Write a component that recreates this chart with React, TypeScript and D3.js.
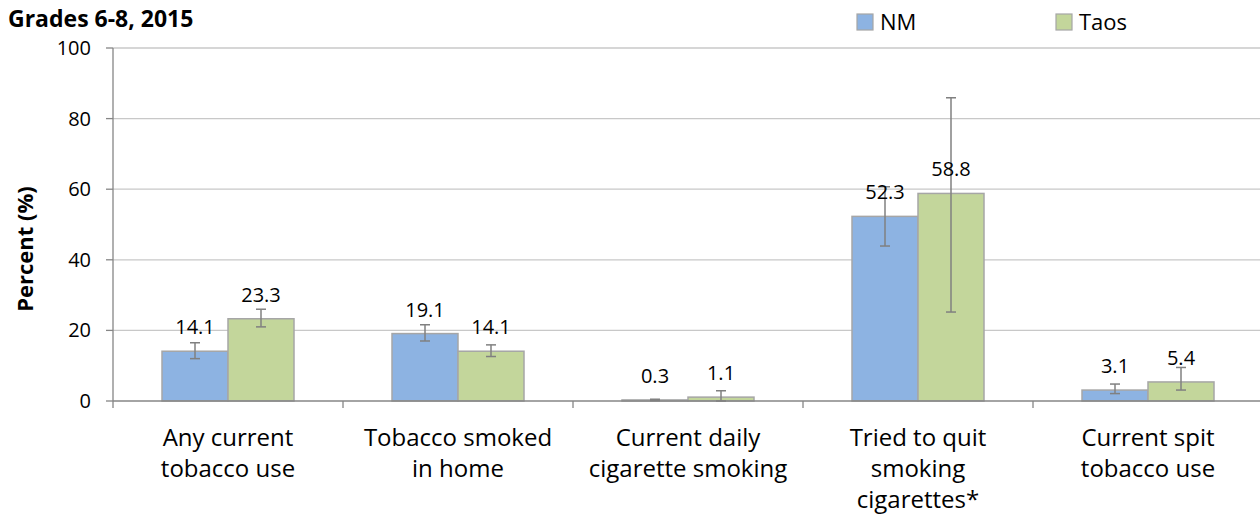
import React from "react";
import * as d3 from "d3";

const categories = [
  ["Any current", "tobacco use"],
  ["Tobacco smoked", "in home"],
  ["Current daily", "cigarette smoking"],
  ["Tried to quit", "smoking", "cigarettes*"],
  ["Current spit", "tobacco use"],
];
const seriesNames = ["NM", "Taos"];
const nmValues = [14.1, 19.1, 0.3, 52.3, 3.1];
const taosValues = [23.3, 14.1, 1.1, 58.8, 5.4];
const nmLower = [12.0, 17.0, 0.1, 43.9, 2.1];
const nmUpper = [16.5, 21.6, 0.5, 60.7, 4.8];
const taosLower = [21.0, 12.6, 0.0, 25.2, 3.1];
const taosUpper = [26.0, 15.9, 2.9, 85.9, 9.5];
const yTicks = [0, 20, 40, 60, 80, 100];
const colors = ["#8DB3E2", "#C3D69B"];

const FONT = "'Open Sans', sans-serif";

export default function App() {
  const W = 1260, H = 520;
  const x0 = 113, plotRight = 1263, yTop = 48, yBottom = 401;
  const x = d3.scaleBand<number>().domain(d3.range(categories.length)).range([x0, plotRight]).padding(0);
  const cw = x.bandwidth();
  const barW = 66;
  const po = ((cw - 2 * barW) / 2) / barW;
  const xs = d3.scaleBand<string>().domain(seriesNames).range([0, cw]).paddingInner(0).paddingOuter(po);
  const y = d3.scaleLinear().domain([0, 100]).range([yBottom, yTop]);

  const series = [
    { name: "NM", values: nmValues, lower: nmLower, upper: nmUpper, color: colors[0] },
    { name: "Taos", values: taosValues, lower: taosLower, upper: taosUpper, color: colors[1] },
  ];

  const boundaries = d3.range(categories.length + 1).map((i) => x0 + i * cw);

  return (
    <svg width={W} height={H} style={{ position: "absolute", left: 0, top: 0, background: "#fff" }} fontFamily={FONT}>
      {yTicks.filter((t) => t > 0).map((t) => (
        <line key={"g" + t} x1={x0} x2={plotRight} y1={y(t)} y2={y(t)} stroke="#C8C8C8" strokeWidth={1.3} />
      ))}
      <line x1={x0} x2={x0} y1={yTop} y2={yBottom} stroke="#868686" strokeWidth={1.3} />
      {yTicks.map((t) => (
        <g key={"yt" + t}>
          <line x1={x0 - 7} x2={x0} y1={y(t)} y2={y(t)} stroke="#868686" strokeWidth={1.3} />
          <text x={x0 - 22} y={y(t)} dy="0.35em" textAnchor="end" fontSize={20} fill="#000">{t}</text>
        </g>
      ))}
      {series.map((s) =>
        s.values.map((v, i) => {
          const bx = (x(i) as number) + (xs(s.name) as number);
          return (
            <rect key={s.name + i} x={bx} y={y(v)} width={xs.bandwidth()} height={y(0) - y(v)}
              fill={s.color} stroke="#A6A6A6" strokeWidth={1.5} />
          );
        })
      )}
      <line x1={x0} x2={plotRight} y1={yBottom} y2={yBottom} stroke="#868686" strokeWidth={1.3} />
      {boundaries.map((b, i) => (
        <line key={"xt" + i} x1={b} x2={b} y1={yBottom} y2={yBottom + 7} stroke="#868686" strokeWidth={1.3} />
      ))}
      {series.map((s) =>
        s.values.map((v, i) => {
          const cx = (x(i) as number) + (xs(s.name) as number) + xs.bandwidth() / 2;
          const y1 = y(s.lower[i]), y2 = y(s.upper[i]);
          return (
            <g key={"e" + s.name + i} stroke="#808080" strokeWidth={1.5}>
              <line x1={cx} x2={cx} y1={y1} y2={y2} />
              <line x1={cx - 5} x2={cx + 5} y1={y1} y2={y1} />
              <line x1={cx - 5} x2={cx + 5} y1={y2} y2={y2} />
            </g>
          );
        })
      )}
      {series.map((s) =>
        s.values.map((v, i) => {
          const cx = (x(i) as number) + (xs(s.name) as number) + xs.bandwidth() / 2;
          return (
            <text key={"l" + s.name + i} x={cx} y={y(v) - 24} dy="0.35em" textAnchor="middle" fontSize={20} fill="#000">
              {v.toFixed(1)}
            </text>
          );
        })
      )}
      {categories.map((lines, i) => (
        <text key={"c" + i} x={(x(i) as number) + cw / 2} textAnchor="middle" fontSize={24} fill="#000">
          {lines.map((l, j) => (
            <tspan key={j} x={(x(i) as number) + cw / 2} y={446 + j * 31}>{l}</tspan>
          ))}
        </text>
      ))}
      <text x={8} y={27} fontSize={23} fontWeight="bold" fill="#000">Grades 6-8, 2015</text>
      <text transform={`translate(25,249) rotate(-90)`} textAnchor="middle" dy="0.35em" fontSize={22} fontWeight="bold" fill="#000">Percent (%)</text>
      {seriesNames.map((n, i) => {
        const lx = [857, 1056][i];
        return (
          <g key={"lg" + n}>
            <rect x={lx} y={14} width={16} height={16} fill={colors[i]} stroke="#A6A6A6" strokeWidth={1.2} />
            <text x={lx + 23} y={22} dy="0.35em" fontSize={22} fill="#000">{n}</text>
          </g>
        );
      })}
    </svg>
  );
}
